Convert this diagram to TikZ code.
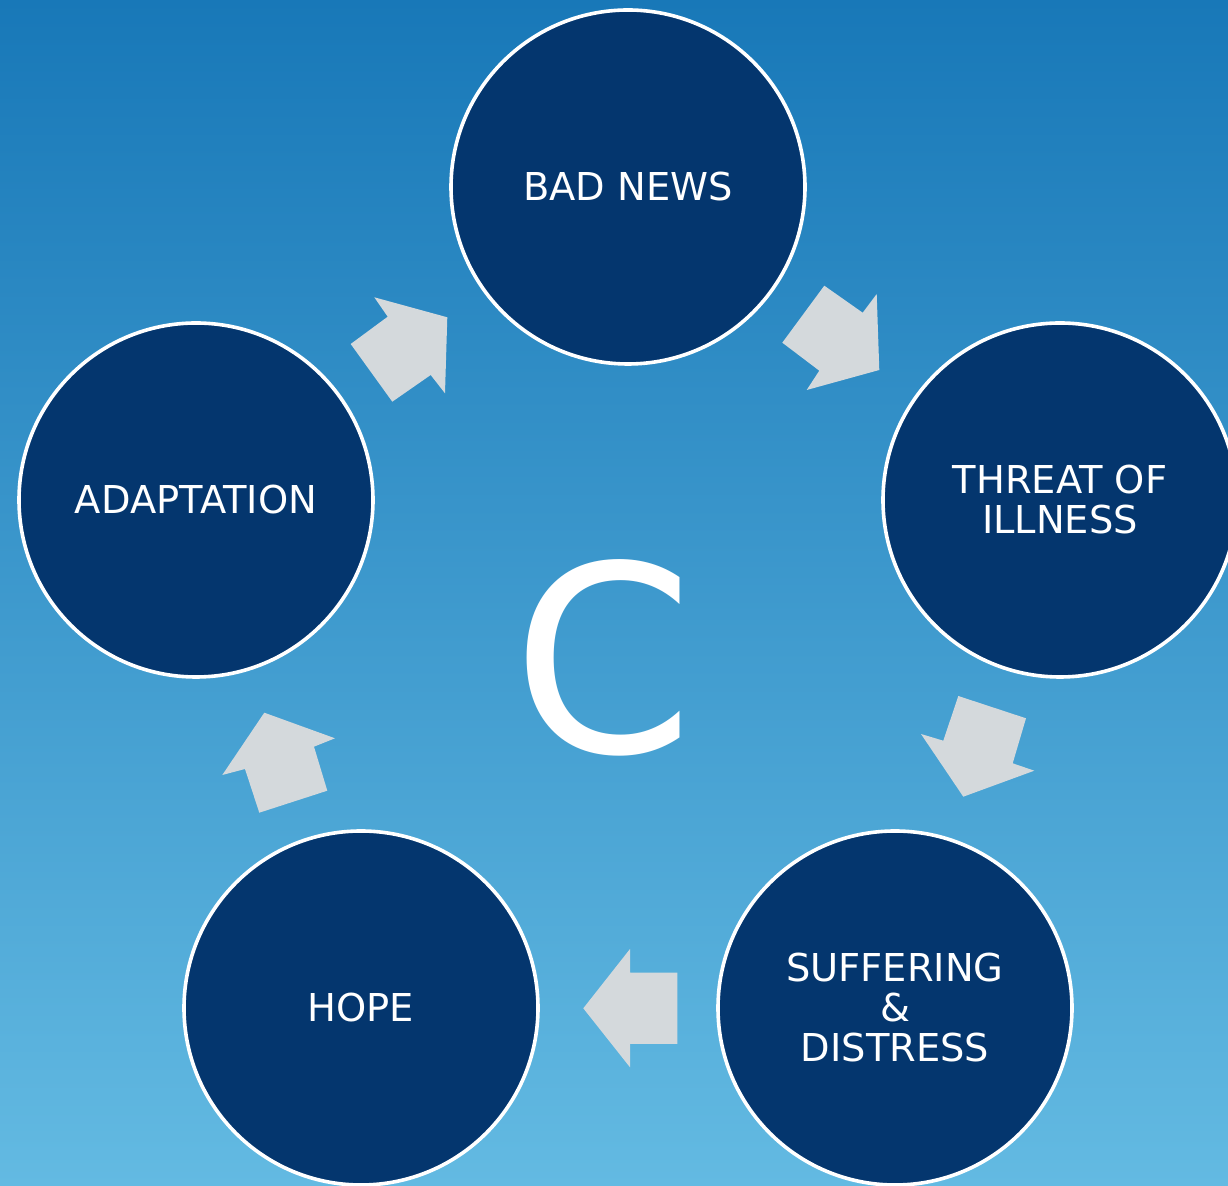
\documentclass[tikz,border=0pt]{standalone}
\usepackage{fontspec}
\setmainfont{DejaVu Sans}
\definecolor{bgtop}{RGB}{24,120,184}
\definecolor{bgbot}{RGB}{99,186,226}
\definecolor{circfill}{RGB}{4,54,110}
\definecolor{arrowgray}{RGB}{212,217,220}
\begin{document}
\begin{tikzpicture}[x=0.5pt,y=-0.5pt,
  circ/.style={circle,draw=white,line width=1.8pt,fill=circfill,minimum size=177pt,inner sep=0pt,
    text=white,align=center,font=\fontsize{19.2}{20}\selectfont},
  blockarrow/.style={fill=arrowgray,draw=none}]
\useasboundingbox (0,0) rectangle (1228,1186);
\shade[top color=bgtop,bottom color=bgbot] (0,0) rectangle (1228,1186);
% circles
\node[circ] (bad) at (628,187) {BAD NEWS};
\node[circ] (threat) at (1060,500) {THREAT OF\\ILLNESS};
\node[circ] (suff) at (895,1008) {SUFFERING\\\&\\DISTRESS};
\node[circ] (hope) at (361,1008) {HOPE};
\node[circ] (adapt) at (196,500) {ADAPTATION};
% centre letter
\node[text=white,font=\fontsize{130}{130}\selectfont,inner sep=0pt] (c) at (603,658) {C};
% block arrows
\fill[blockarrow] (782.3,342.7) -- (824.3,285.7) -- (862.7,312.7) -- (876.7,294) -- (879.3,370) -- (806.7,390) -- (819.3,370.7) -- cycle;
\fill[blockarrow] (958.3,696) -- (1026,718.3) -- (1012.7,763.3) -- (1034.3,770.7) -- (963.3,796.7) -- (921,734) -- (943.3,740.7) -- cycle;
\fill[blockarrow] (583.3,1008.3) -- (630,949) -- (630,972.7) -- (677.3,972.7) -- (677.3,1044) -- (630,1044) -- (630,1067.3) -- cycle;
\fill[blockarrow] (264.3,712.7) -- (335,738.3) -- (314,746.7) -- (327.3,790.7) -- (259.3,812.7) -- (245,769) -- (222.3,775) -- cycle;
\fill[blockarrow] (374.3,297.3) -- (447.3,317.3) -- (445,393.3) -- (430.7,375) -- (392.3,401.7) -- (350.7,344) -- (387.7,316.7) -- cycle;
\end{tikzpicture}
\end{document}
